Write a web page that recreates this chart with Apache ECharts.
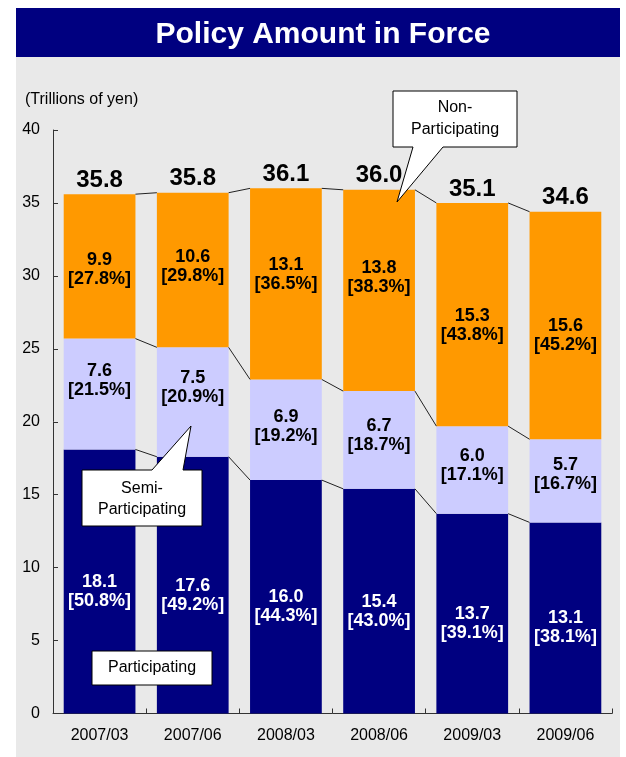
<!DOCTYPE html>
<html>
<head>
<meta charset="utf-8">
<script src="https://cdn.jsdelivr.net/npm/echarts@6/dist/echarts.min.js"></script>
<style>
html,body{margin:0;padding:0;background:#fff;}
#chart{width:626px;height:757px;}
</style>
</head>
<body>
<div id="chart"></div>
<script>
// ---- data ----
const categories = ['2007/03', '2007/06', '2008/03', '2008/06', '2009/03', '2009/06'];
const participating = [18.1, 17.6, 16.0, 15.4, 13.7, 13.1];
const participatingPct = ['50.8%', '49.2%', '44.3%', '43.0%', '39.1%', '38.1%'];
const semiParticipating = [7.6, 7.5, 6.9, 6.7, 6.0, 5.7];
const semiPct = ['21.5%', '20.9%', '19.2%', '18.7%', '17.1%', '16.7%'];
const nonParticipating = [9.9, 10.6, 13.1, 13.8, 15.3, 15.6];
const nonPct = ['27.8%', '29.8%', '36.5%', '38.3%', '43.8%', '45.2%'];
const totals = ['35.8', '35.8', '36.1', '36.0', '35.1', '34.6'];
const yTicks = [0, 5, 10, 15, 20, 25, 30, 35, 40];

// ---- label nudges (styling, not data) ----
const semiNudge = [-14, -15, -3, -4, -4, -6];
const nonNudge = [3, -4, -9, -13, 11, 10];

const FONT = '"Liberation Sans", Arial, sans-serif';
const cumP = participating.slice();
const cumS = participating.map((v, i) => v + semiParticipating[i]);
const cumN = cumS.map((v, i) => v + nonParticipating[i]);

function segData(vals, nudges, color) {
  return vals.map((v, i) => {
    const d = { value: v };
    if (nudges) d.label = { offset: [0, nudges[i]] };
    return d;
  });
}

const labelBase = {
  show: true,
  position: 'inside',
  fontFamily: FONT,
  fontWeight: 'bold',
  fontSize: 18,
  lineHeight: 19
};

const chart = echarts.init(document.getElementById('chart'), null, { renderer: 'canvas' });
chart.setOption({
  animation: false,
  backgroundColor: '#ffffff',
  title: {
    text: 'Policy Amount in Force',
    left: 318,
    textAlign: 'center',
    top: 15,
    textStyle: { color: '#ffffff', fontFamily: FONT, fontWeight: 'bold', fontSize: 30 }
  },
  grid: { left: 53, right: 14, top: 130, bottom: 43.5, containLabel: false },
  xAxis: {
    type: 'category',
    data: categories,
    axisLine: { lineStyle: { color: '#333', width: 1 } },
    axisTick: { show: true, inside: true, length: 5, lineStyle: { color: '#333' } },
    axisLabel: { color: '#000', fontFamily: FONT, fontSize: 16, margin: 14 }
  },
  yAxis: {
    type: 'value',
    min: yTicks[0],
    max: yTicks[yTicks.length - 1],
    interval: yTicks[1] - yTicks[0],
    axisLine: { show: true, lineStyle: { color: '#333', width: 1 } },
    axisTick: { show: true, inside: true, length: 5, lineStyle: { color: '#333' } },
    axisLabel: { color: '#000', fontFamily: FONT, fontSize: 16, margin: 13 },
    splitLine: { show: false }
  },
  graphic: [
    { type: 'rect', z: -10, silent: true, shape: { x: 16, y: 57, width: 604, height: 700 }, style: { fill: '#e9e9e9' } },
    { type: 'rect', z: -10, silent: true, shape: { x: 16, y: 8, width: 604, height: 49 }, style: { fill: '#000080' } },
    { type: 'text', z: 10, x: 25, y: 100, style: { text: '(Trillions of yen)', fill: '#000', font: '16px ' + FONT, textVerticalAlign: 'middle', textAlign: 'left' } },
    // Non-Participating callout
    { type: 'polygon', z: 100, shape: { points: [[393, 91], [517, 91], [517, 147], [443, 147], [397, 202], [413, 147], [393, 147]] },
      style: { fill: '#fff', stroke: '#000', lineWidth: 1 } },
    { type: 'text', z: 101, x: 455, y: 119, style: { text: 'Non-\nParticipating', fill: '#000', font: '16px ' + FONT, lineHeight: 22, textAlign: 'center', textVerticalAlign: 'middle' } },
    // Semi-Participating callout
    { type: 'polygon', z: 100, shape: { points: [[82, 470], [152, 470], [191, 426], [183, 470], [202, 470], [202, 526], [82, 526]] },
      style: { fill: '#fff', stroke: '#000', lineWidth: 1 } },
    { type: 'text', z: 101, x: 142, y: 499, style: { text: 'Semi-\nParticipating', fill: '#000', font: '16px ' + FONT, lineHeight: 21, textAlign: 'center', textVerticalAlign: 'middle' } },
    // Participating callout
    { type: 'rect', z: 100, shape: { x: 92, y: 651, width: 120, height: 34 }, style: { fill: '#fff', stroke: '#000', lineWidth: 1 } },
    { type: 'text', z: 101, x: 152, y: 668, style: { text: 'Participating', fill: '#000', font: '16px ' + FONT, textAlign: 'center', textVerticalAlign: 'middle' } }
  ],
  series: [
    {
      name: 'Participating', type: 'bar', stack: 'total', barWidth: '77%',
      itemStyle: { color: '#000080' },
      label: Object.assign({}, labelBase, { color: '#ffffff', offset: [0, 10],
        formatter: p => participating[p.dataIndex].toFixed(1) + '\n[' + participatingPct[p.dataIndex] + ']' }),
      data: segData(participating, null)
    },
    {
      name: 'Semi-Participating', type: 'bar', stack: 'total', barWidth: '77%',
      itemStyle: { color: '#ccccff' },
      label: Object.assign({}, labelBase, { color: '#000000',
        formatter: p => semiParticipating[p.dataIndex].toFixed(1) + '\n[' + semiPct[p.dataIndex] + ']' }),
      data: segData(semiParticipating, semiNudge)
    },
    {
      name: 'Non-Participating', type: 'bar', stack: 'total', barWidth: '77%',
      itemStyle: { color: '#ff9900' },
      label: Object.assign({}, labelBase, { color: '#000000',
        formatter: p => nonParticipating[p.dataIndex].toFixed(1) + '\n[' + nonPct[p.dataIndex] + ']' }),
      data: segData(nonParticipating, nonNudge)
    },
    {
      name: 'Total', type: 'bar', stack: 'total', barWidth: '77%',
      itemStyle: { color: 'transparent' },
      label: { show: true, position: 'top', distance: 2, color: '#000', fontFamily: FONT, fontWeight: 'bold', fontSize: 24,
        formatter: p => totals[p.dataIndex] },
      data: categories.map(() => 0)
    },
    {
      name: 'Connectors', type: 'custom', silent: true, z: 5,
      encode: { x: 0, y: 1 },
      data: categories.slice(0, -1).map((c, i) => [i, 0]),
      renderItem: function (params, api) {
        const i = api.value(0);
        const hw = api.size([1, 0])[0] * 0.77 / 2;
        const levels = [cumP, cumS, cumN];
        return {
          type: 'group',
          children: levels.map(L => {
            const a = api.coord([i, L[i]]);
            const b = api.coord([i + 1, L[i + 1]]);
            return { type: 'line', shape: { x1: a[0] + hw, y1: a[1], x2: b[0] - hw, y2: b[1] },
              style: { stroke: '#222', lineWidth: 1 } };
          })
        };
      }
    }
  ]
});
</script>
</body>
</html>
